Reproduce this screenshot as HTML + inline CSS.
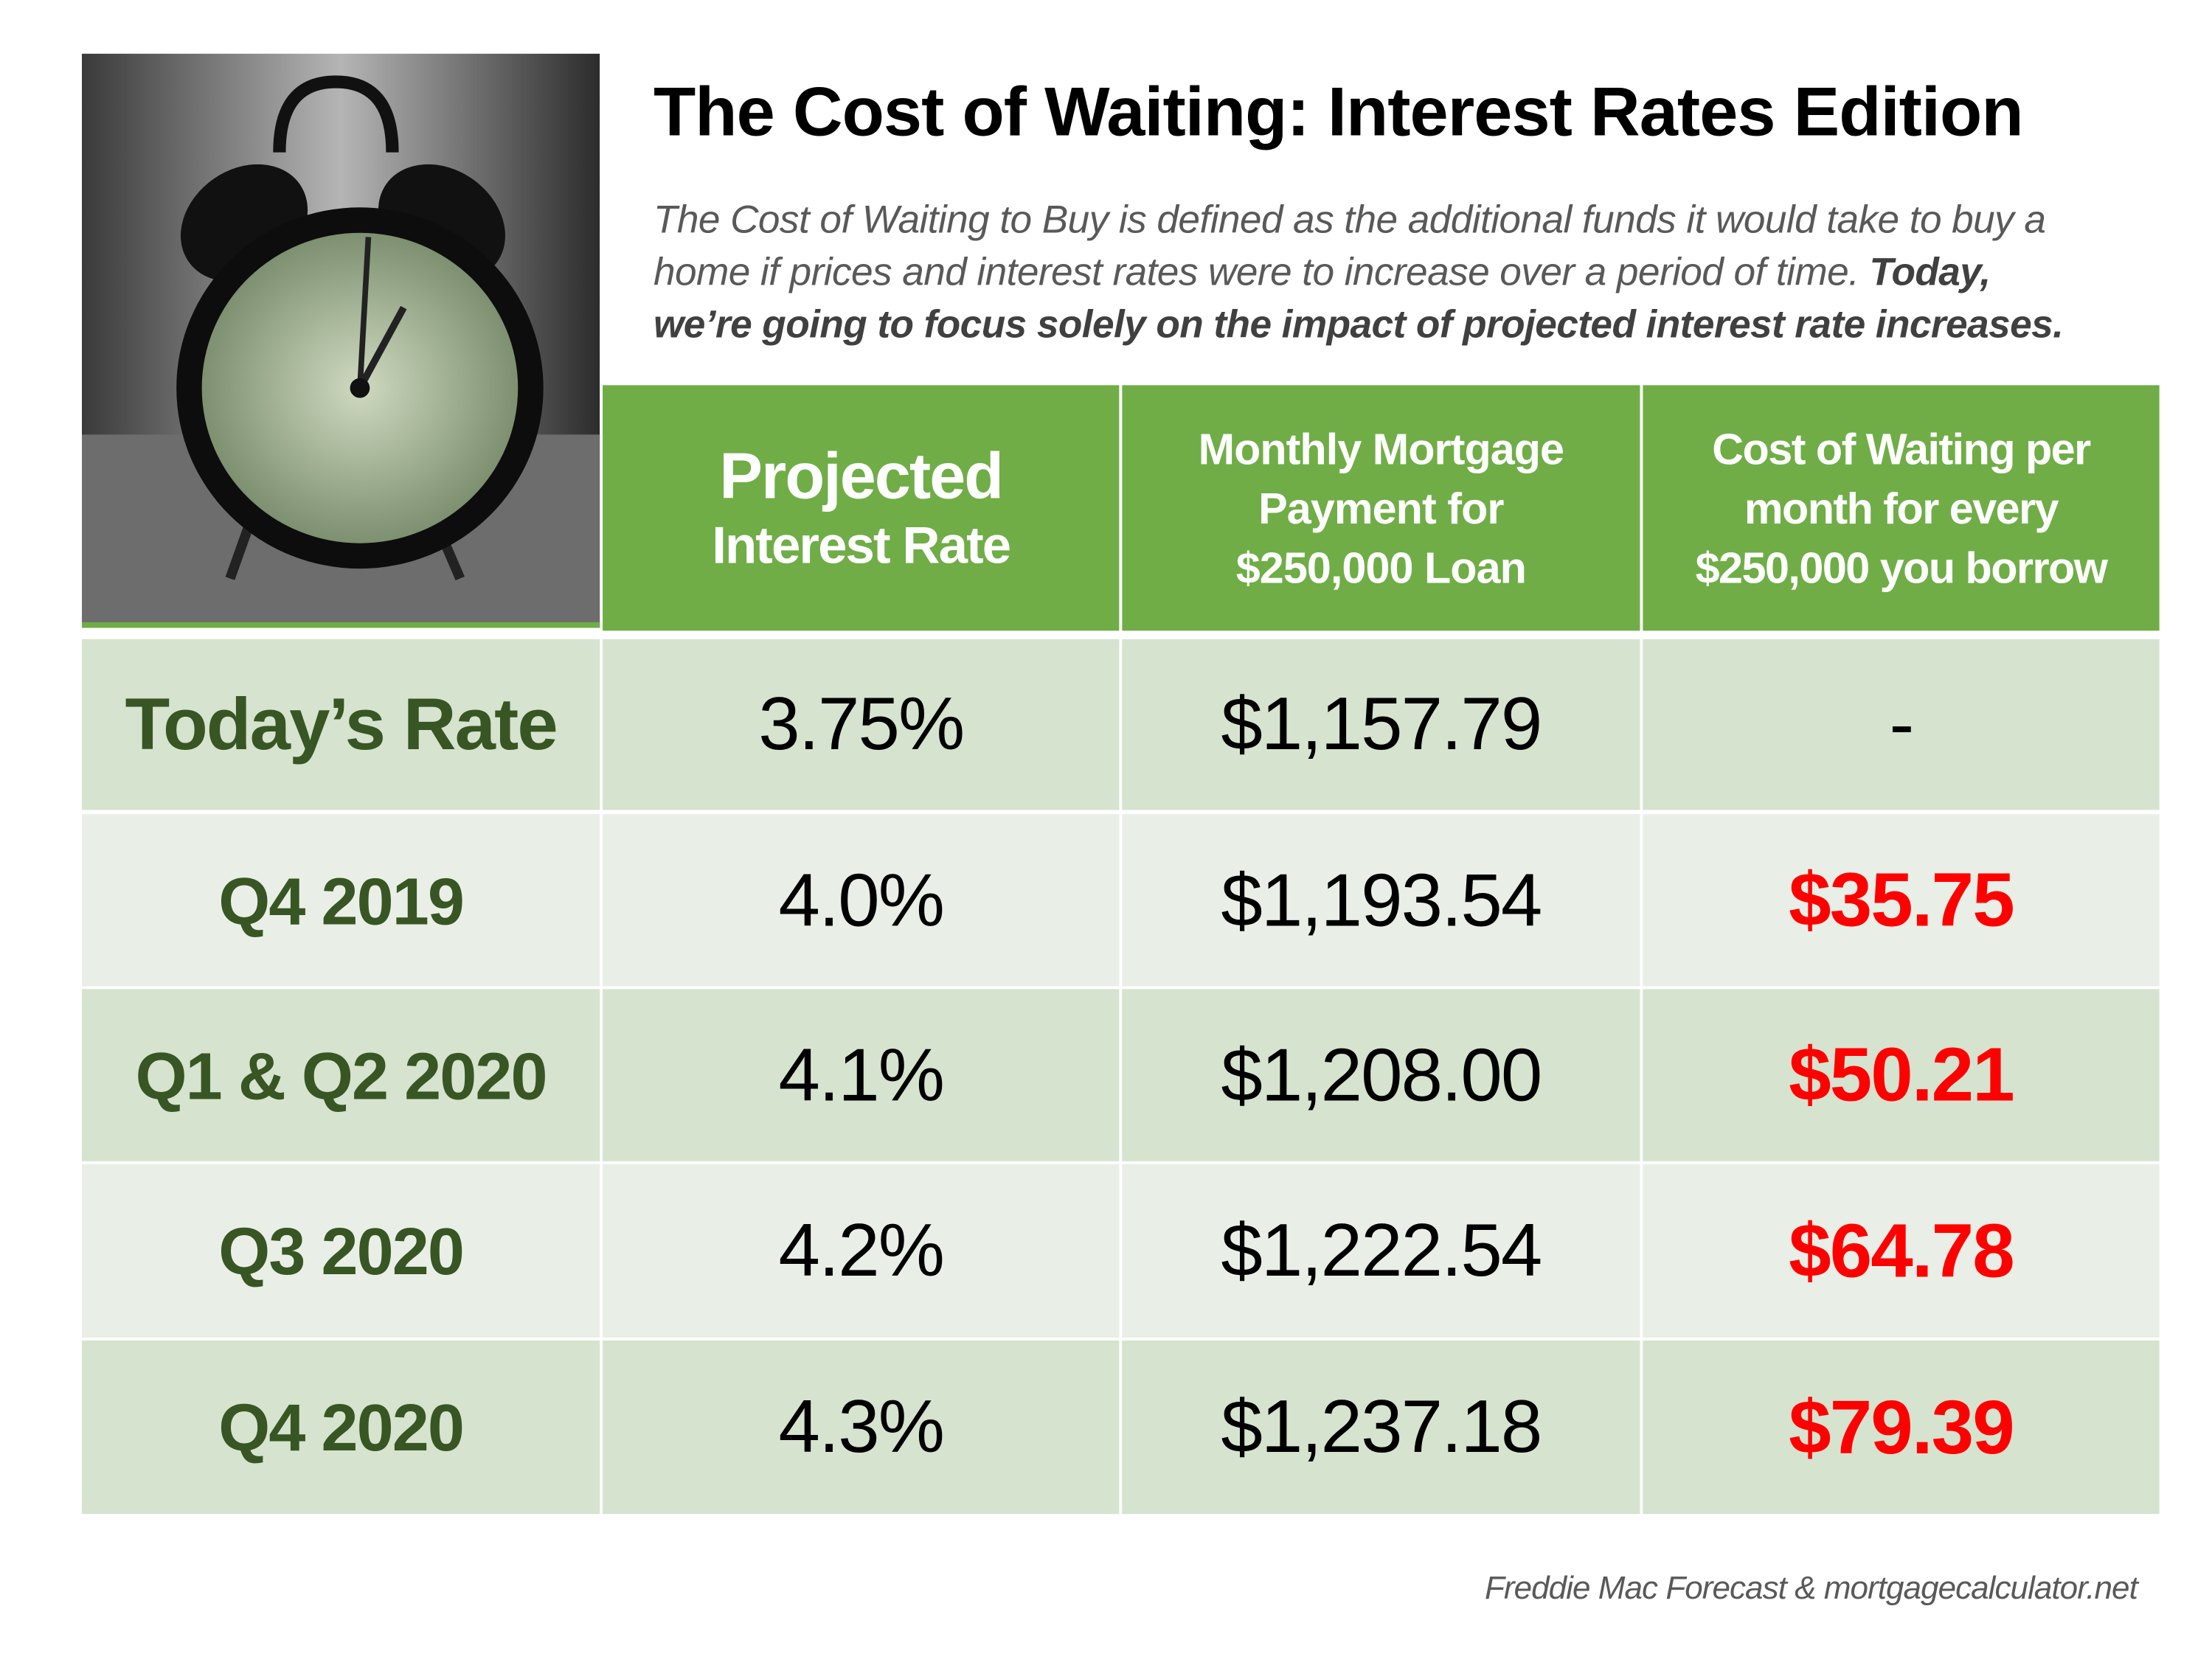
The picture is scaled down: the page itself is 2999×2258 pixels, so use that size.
<!DOCTYPE html>
<html><head><meta charset="utf-8"><style>
html,body{margin:0;padding:0;background:#fff;overflow:hidden}
#w{position:absolute;left:0;top:0;width:1570px;height:1180px;transform:scale(1.9135,1.9135);transform-origin:0 0;font-family:"Liberation Sans",sans-serif}
.a{position:absolute}
.title{left:463px;top:52px;font-size:49px;font-weight:bold;color:#000;letter-spacing:-0.5px;white-space:nowrap}
.sub{left:463px;top:137px;width:1100px;font-size:27.8px;line-height:37px;font-style:italic;color:#595959;letter-spacing:-0.3px;white-space:nowrap}
.sub b{color:#404040}
.c{position:absolute;display:flex;align-items:center;justify-content:center;text-align:center;box-sizing:border-box;white-space:nowrap}
.h{background:#70ad47;color:#fff;font-weight:bold}
.lab{color:#375623;font-weight:bold;font-size:47px;letter-spacing:-1px}
.v{color:#000;font-size:53px;letter-spacing:-1px}
.r{color:#ff0000;font-weight:bold;font-size:54px;letter-spacing:-1px}
</style></head><body><div id="w">
<svg class="a" style="left:58px;top:38px" width="367" height="407" viewBox="0 0 367 407">
<defs><linearGradient id="bg" x1="0" y1="0" x2="1" y2="0"><stop offset="0" stop-color="#3a3a3a"/><stop offset=".5" stop-color="#b5b5b5"/><stop offset="1" stop-color="#2c2c2c"/></linearGradient>
<radialGradient id="face"><stop offset="0" stop-color="#cfd9c0"/><stop offset="1" stop-color="#7d9070"/></radialGradient></defs>
<rect width="367" height="407" fill="url(#bg)"/>
<rect y="270" width="367" height="137" fill="#6d6d6d"/>
<path d="M140 70 Q140 20 180 20 Q220 20 220 70" stroke="#111" stroke-width="9" fill="none"/>
<ellipse cx="115" cy="120" rx="48" ry="38" fill="#111" transform="rotate(-35 115 120)"/>
<ellipse cx="255" cy="120" rx="48" ry="38" fill="#111" transform="rotate(35 255 120)"/>
<line x1="120" y1="330" x2="105" y2="372" stroke="#222" stroke-width="7"/>
<line x1="250" y1="330" x2="268" y2="372" stroke="#222" stroke-width="7"/>
<ellipse cx="197" cy="237" rx="130" ry="128" fill="#0d0d0d"/>
<ellipse cx="197" cy="237" rx="112" ry="110" fill="url(#face)"/>
<line x1="197" y1="237" x2="203" y2="130" stroke="#222" stroke-width="4"/>
<line x1="197" y1="237" x2="228" y2="180" stroke="#222" stroke-width="5"/>
<circle cx="197" cy="237" r="7" fill="#111"/>
</svg>
<div class="a" style="left:58px;top:441px;width:367px;height:4px;background:#70ad47"></div>
<div class="a title">The Cost of Waiting: Interest Rates Edition</div>
<div class="a sub">The Cost of Waiting to Buy is defined as the additional funds it would take to buy a<br>home if prices and interest rates were to increase over a period of time. <b>Today,<br>we’re going to focus solely on the impact of projected interest rate increases.</b></div>

<div class="c h" style="left:427px;top:273px;width:366px;height:174px;flex-direction:column;line-height:1.2"><div style="font-size:46px;letter-spacing:-1px">Projected</div><div style="font-size:37px;letter-spacing:-1px">Interest Rate</div></div>
<div class="c h" style="left:795px;top:273px;width:367px;height:174px;padding-top:2px;font-size:31px;line-height:42px;letter-spacing:-0.5px">Monthly Mortgage<br>Payment for<br>$250,000 Loan</div>
<div class="c h" style="left:1164px;top:273px;width:366px;height:174px;padding-top:2px;font-size:31px;line-height:42px;letter-spacing:-0.8px">Cost of Waiting per<br>month for every<br>$250,000 you borrow</div>

<div class="c" style="left:58px;top:453px;width:1472px;height:121px;background:#d6e3cf"></div>
<div class="c" style="left:58px;top:577px;width:1472px;height:122px;background:#e9efe6"></div>
<div class="c" style="left:58px;top:701px;width:1472px;height:122px;background:#d6e3cf"></div>
<div class="c" style="left:58px;top:825px;width:1472px;height:123px;background:#e9efe6"></div>
<div class="c" style="left:58px;top:950px;width:1472px;height:123px;background:#d6e3cf"></div>
<div class="a" style="left:425px;top:453px;width:2px;height:620px;background:#fff"></div>
<div class="a" style="left:793px;top:273px;width:2px;height:800px;background:#fff"></div>
<div class="a" style="left:1162px;top:273px;width:2px;height:800px;background:#fff"></div>

<div class="c lab" style="left:58px;top:453px;width:367px;height:121px;font-size:52px">Today’s Rate</div>
<div class="c v" style="left:427px;top:453px;width:366px;height:121px">3.75%</div>
<div class="c v" style="left:795px;top:453px;width:367px;height:121px">$1,157.79</div>
<div class="c v" style="left:1164px;top:453px;width:366px;height:121px">-</div>

<div class="c lab" style="left:58px;top:577px;width:367px;height:122px">Q4 2019</div>
<div class="c v" style="left:427px;top:577px;width:366px;height:122px">4.0%</div>
<div class="c v" style="left:795px;top:577px;width:367px;height:122px">$1,193.54</div>
<div class="c r" style="left:1164px;top:577px;width:366px;height:122px">$35.75</div>

<div class="c lab" style="left:58px;top:701px;width:367px;height:122px">Q1 &amp; Q2 2020</div>
<div class="c v" style="left:427px;top:701px;width:366px;height:122px">4.1%</div>
<div class="c v" style="left:795px;top:701px;width:367px;height:122px">$1,208.00</div>
<div class="c r" style="left:1164px;top:701px;width:366px;height:122px">$50.21</div>

<div class="c lab" style="left:58px;top:825px;width:367px;height:123px">Q3 2020</div>
<div class="c v" style="left:427px;top:825px;width:366px;height:123px">4.2%</div>
<div class="c v" style="left:795px;top:825px;width:367px;height:123px">$1,222.54</div>
<div class="c r" style="left:1164px;top:825px;width:366px;height:123px">$64.78</div>

<div class="c lab" style="left:58px;top:950px;width:367px;height:123px">Q4 2020</div>
<div class="c v" style="left:427px;top:950px;width:366px;height:123px">4.3%</div>
<div class="c v" style="left:795px;top:950px;width:367px;height:123px">$1,237.18</div>
<div class="c r" style="left:1164px;top:950px;width:366px;height:123px">$79.39</div>

<div class="a" style="left:1052px;top:1112px;font-size:23px;font-style:italic;color:#595959;letter-spacing:-0.5px;white-space:nowrap">Freddie Mac Forecast &amp; mortgagecalculator.net</div>
</div></body></html>
